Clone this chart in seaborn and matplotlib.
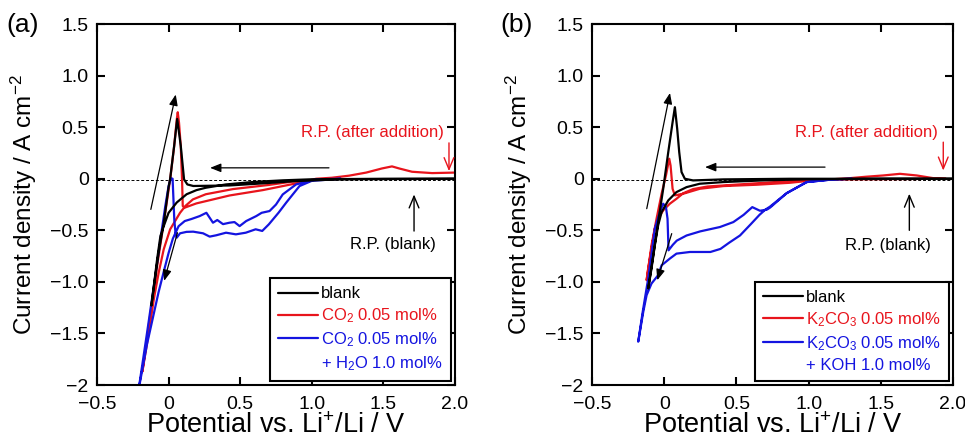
import pandas as pd
import seaborn as sns
import matplotlib.pyplot as plt
from matplotlib.lines import Line2D

# ---- (a) CO2 addition: potential / V and current density / A cm-2 (scan order) ----
a_blank_v = [2.0, 1.5, 1.0, 0.8, 0.6, 0.4, 0.26, 0.195, 0.126, 0.057, 0.0, -0.034, -0.057, -0.08, -0.103, -0.12,
             -0.095, -0.07, -0.034, 0.0, 0.011, 0.039, 0.06, 0.085, 0.108, 0.131, 0.172, 0.424, 0.654, 0.883, 1.2, 2.0]
a_blank_i = [0.0, 0.0, -0.005, -0.015, -0.03, -0.055, -0.087, -0.11, -0.15, -0.23, -0.33, -0.46, -0.555, -0.78, -1.04, -1.23,
             -0.97, -0.72, -0.43, -0.08, 0.0, 0.32, 0.58, 0.32, -0.006, -0.055, -0.07, -0.065, -0.045, -0.023, -0.005, 0.0]

a_co2_v = [1.2, 0.9, 0.7, 0.45, 0.26, 0.17, 0.12, 0.08, 0.011, -0.034, -0.069, -0.103, -0.138, -0.183,
           -0.126, -0.08, -0.034, 0.011, 0.039, 0.057, 0.064, 0.073, 0.085, 0.094, 0.099, 0.113, 0.194, 0.426,
           0.658, 0.89, 1.03, 1.14, 1.26, 1.38, 1.49, 1.56, 1.61, 1.70, 1.84, 2.0]
a_co2_i = [0.0, -0.02, -0.06, -0.10, -0.15, -0.20, -0.26, -0.33, -0.49, -0.684, -0.91, -1.168, -1.49, -1.87,
           -1.297, -0.845, -0.426, -0.006, 0.316, 0.574, 0.645, 0.542, 0.316, -0.006, -0.265, -0.28, -0.239, -0.162,
           -0.11, -0.045, 0.0, 0.01, 0.03, 0.06, 0.10, 0.12, 0.10, 0.068, 0.055, 0.06]

a_h2o_v = [1.2, 1.03, 0.89, 0.797, 0.75, 0.705, 0.65, 0.612, 0.542, 0.496, 0.46, 0.426, 0.38, 0.34, 0.31, 0.264,
           0.217, 0.16, 0.113, 0.07, 0.03, 0.0, -0.03, -0.07, -0.11, -0.15, -0.21,
           -0.15, -0.103, -0.057, -0.023, 0.0, 0.016, 0.028, 0.034, 0.04, 0.048, 0.057, 0.08, 0.125, 0.172, 0.241,
           0.287, 0.333, 0.401, 0.47, 0.539, 0.608, 0.654, 0.70, 0.768, 0.821, 0.914, 1.0, 1.2]
a_h2o_i = [0.0, -0.005, -0.055, -0.152, -0.25, -0.313, -0.33, -0.362, -0.41, -0.459, -0.42, -0.426, -0.44, -0.40,
           -0.426, -0.33, -0.362, -0.39, -0.41, -0.46, -0.58, -0.72, -0.88, -1.1, -1.35, -1.6, -2.05,
           -1.49, -1.04, -0.587, -0.265, -0.071, 0.006, 0.0, -0.2, -0.4, -0.52, -0.571, -0.529, -0.515, -0.513, -0.529,
           -0.561, -0.548, -0.523, -0.539, -0.523, -0.49, -0.506, -0.442, -0.329, -0.232, -0.071, -0.02, 0.0]

# ---- (b) K2CO3 addition ----
b_blank_v = [2.0, 1.5, 1.0, 0.7, 0.41, 0.247, 0.155, 0.085, 0.028, -0.018, -0.042, -0.065, -0.088, -0.111,
             -0.076, -0.042, -0.007, 0.028, 0.058, 0.074, 0.09, 0.104, 0.12, 0.143, 0.2, 0.41, 0.87, 2.0]
b_blank_i = [0.0, 0.0, -0.005, -0.015, -0.032, -0.048, -0.081, -0.129, -0.21, -0.323, -0.452, -0.645, -0.871, -1.065,
             -0.742, -0.419, -0.097, 0.258, 0.548, 0.694, 0.484, 0.258, 0.065, 0.0, -0.016, -0.006, 0.0, 0.0]

b_k2co3_v = [1.95, 1.6, 1.3, 0.94, 0.594, 0.3, 0.2, 0.132, 0.085, 0.039, -0.007, -0.042, -0.065, -0.088, -0.111, -0.122,
             -0.088, -0.053, -0.018, 0.012, 0.035, 0.044, 0.058, 0.074, 0.132, 0.247, 0.409, 0.64, 0.87, 1.0,
             1.287, 1.4, 1.517, 1.633, 1.749, 1.864, 1.95]
b_k2co3_i = [0.0, -0.003, -0.005, -0.016, -0.048, -0.075, -0.10, -0.14, -0.194, -0.242, -0.306, -0.387, -0.484, -0.677,
             -0.871, -0.984,
             -0.645, -0.387, -0.145, 0.032, 0.194, 0.129, -0.097, -0.161, -0.145, -0.097, -0.071, -0.058, -0.039, -0.02,
             0.006, 0.02, 0.032, 0.048, 0.032, 0.006, 0.0]

b_koh_v = [1.3, 1.17, 0.987, 0.848, 0.733, 0.70, 0.66, 0.60, 0.525, 0.45, 0.39, 0.32, 0.25, 0.178, 0.085, 0.039,
           -0.018, -0.042, -0.088, -0.122, -0.145, -0.18,
           -0.15, -0.111, -0.085, -0.065, -0.03, -0.007, 0.012, 0.023, 0.03, 0.06, 0.087, 0.155, 0.25, 0.386, 0.479,
           0.55, 0.61, 0.663, 0.71, 0.733, 0.848, 0.987, 1.17, 1.3]
b_koh_i = [0.0, -0.006, -0.032, -0.14, -0.27, -0.30, -0.35, -0.44, -0.55, -0.62, -0.68, -0.71, -0.71, -0.71, -0.726,
           -0.774, -0.839, -0.935, -1.016, -1.129, -1.29, -1.58,
           -1.3, -0.968, -0.7, -0.484, -0.323, -0.242, -0.274, -0.387, -0.694, -0.64, -0.60, -0.55, -0.51, -0.468,
           -0.42, -0.35, -0.275, -0.31, -0.30, -0.28, -0.14, -0.032, -0.006, 0.0]

a_labels = ["blank", "CO$_2$ 0.05 mol%", "CO$_2$ 0.05 mol%", "+ H$_2$O 1.0 mol%"]
b_labels = ["blank", "K$_2$CO$_3$ 0.05 mol%", "K$_2$CO$_3$ 0.05 mol%", "+ KOH 1.0 mol%"]

x_ticks = [-0.5, 0, 0.5, 1.0, 1.5, 2.0]
x_ticklabels = ["\u22120.5", "0", "0.5", "1.0", "1.5", "2.0"]
y_ticks = [1.5, 1.0, 0.5, 0, -0.5, -1.0, -1.5, -2.0]
y_ticklabels = ["1.5", "1.0", "0.5", "0", "\u22120.5", "\u22121.0", "\u22121.5", "\u22122"]

RED = "#e8141c"
BLUE = "#1414e0"


def draw_panel(ax, blank, added, added2, labels, txt_pos):
    df = pd.concat([
        pd.DataFrame({"E": added[0], "j": added[1], "curve": "added"}),
        pd.DataFrame({"E": added2[0], "j": added2[1], "curve": "added2"}),
        pd.DataFrame({"E": blank[0], "j": blank[1], "curve": "blank"}),
    ], ignore_index=True)
    sns.lineplot(data=df, x="E", y="j", hue="curve", hue_order=["added", "added2", "blank"],
                 palette={"added": RED, "added2": BLUE, "blank": "black"},
                 sort=False, estimator=None, lw=1.6, legend=False, ax=ax)

    ax.axhline(-0.015, color="black", lw=0.7, ls=(0, (3, 2)), zorder=1)

    ax.set_xlim(-0.5, 2.0)
    ax.set_ylim(-2.0, 1.5)
    ax.set_xticks(x_ticks)
    ax.set_xticklabels(x_ticklabels)
    ax.set_yticks(y_ticks)
    ax.set_yticklabels(y_ticklabels)
    ax.tick_params(direction="in", length=6, width=1.5, top=True, right=True, labelsize=14,
                   colors="black")
    ax.tick_params(axis="x", pad=8)
    ax.tick_params(axis="y", pad=6)
    for s in ax.spines.values():
        s.set_linewidth(1.5)
        s.set_color("black")
        s.set_visible(True)

    ax.set_xlabel("Potential vs. Li$^{+}$/Li / V", fontsize=19.5, labelpad=0, color="black")
    ax.set_ylabel("Current density / A cm$^{\u22122}$", fontsize=17.5, labelpad=8, color="black")

    # scan direction arrows
    filled = dict(arrowstyle="-|>,head_length=0.5,head_width=0.2", color="black", lw=0.9,
                  mutation_scale=13, shrinkA=0, shrinkB=0)
    up, down, left = txt_pos["up"], txt_pos["down"], txt_pos["left"]
    ax.annotate("", xy=up[1], xytext=up[0], arrowprops=filled)
    ax.annotate("", xy=down[1], xytext=down[0], arrowprops=filled)
    ax.annotate("", xy=left[1], xytext=left[0], arrowprops=filled)

    opened = dict(arrowstyle="->,head_length=0.6,head_width=0.25", lw=1.0,
                  mutation_scale=14, shrinkA=0, shrinkB=0)
    rx, ry = txt_pos["rp_add"]
    ax.text(rx, ry, "R.P. (after addition)", color=RED, fontsize=12, ha="right", va="center")
    ax.annotate("", xy=txt_pos["rp_add_arrow"][1], xytext=txt_pos["rp_add_arrow"][0],
                arrowprops=dict(opened, color=RED))
    bx, by = txt_pos["rp_blank"]
    ax.text(bx, by, "R.P. (blank)", color="black", fontsize=12, ha="center", va="center")
    ax.annotate("", xy=txt_pos["rp_blank_arrow"][1], xytext=txt_pos["rp_blank_arrow"][0],
                arrowprops=dict(opened, color="black"))

    handles = [Line2D([], [], color="black", lw=1.6), Line2D([], [], color=RED, lw=1.6),
               Line2D([], [], color=BLUE, lw=1.6), Line2D([], [], color="none", lw=1.6)]
    leg = ax.legend(handles, labels, loc="lower right", fontsize=12, frameon=True, fancybox=False,
                    edgecolor="black", framealpha=1, borderaxespad=0.25, handlelength=2.4,
                    handletextpad=0.15, labelspacing=0.3, borderpad=0.5)
    leg.get_frame().set_linewidth(1.5)
    for t, c in zip(leg.get_texts(), ["black", RED, BLUE, BLUE]):
        t.set_color(c)


if __name__ == "__main__":
    sns.set_style("ticks")
    plt.rcParams["font.family"] = ["Liberation Sans", "DejaVu Sans"]
    plt.rcParams["text.color"] = "black"
    plt.rcParams["axes.labelcolor"] = "black"
    plt.rcParams["mathtext.fontset"] = "custom"
    plt.rcParams["mathtext.rm"] = "Liberation Sans"
    plt.rcParams["mathtext.it"] = "Liberation Sans:italic"
    plt.rcParams["mathtext.bf"] = "Liberation Sans:bold"

    fig = plt.figure(figsize=(9.65, 4.38), dpi=100)
    ax_a = fig.add_axes([0.1005, 0.121, 0.371, 0.824])
    ax_b = fig.add_axes([0.6135, 0.121, 0.374, 0.824])

    draw_panel(ax_a, (a_blank_v, a_blank_i), (a_co2_v, a_co2_i), (a_h2o_v, a_h2o_i), a_labels, {
        "up": ((-0.124, -0.297), (0.05, 0.817)),
        "down": ((0.062, -0.523), (-0.031, -0.99)),
        "left": ((1.12, 0.106), (0.29, 0.106)),
        "rp_add": (1.923, 0.448),
        "rp_add_arrow": ((1.958, 0.348), (1.958, 0.074)),
        "rp_blank": (1.568, -0.636),
        "rp_blank_arrow": ((1.714, -0.507), (1.714, -0.152)),
    })
    draw_panel(ax_b, (b_blank_v, b_blank_i), (b_k2co3_v, b_k2co3_i), (b_koh_v, b_koh_i), b_labels, {
        "up": ((-0.121, -0.29), (0.04, 0.832)),
        "down": ((0.052, -0.532), (-0.048, -0.984)),
        "left": ((1.114, 0.113), (0.283, 0.113)),
        "rp_add": (1.898, 0.452),
        "rp_add_arrow": ((1.933, 0.355), (1.933, 0.08)),
        "rp_blank": (1.552, -0.645),
        "rp_blank_arrow": ((1.698, -0.5), (1.698, -0.145)),
    })

    fig.text(0.007, 1 - 25 / 438, "(a)", fontsize=19, ha="left", va="center")
    fig.text(500 / 965, 1 - 25 / 438, "(b)", fontsize=19, ha="left", va="center")

    fig.savefig("out.png", dpi=100)
